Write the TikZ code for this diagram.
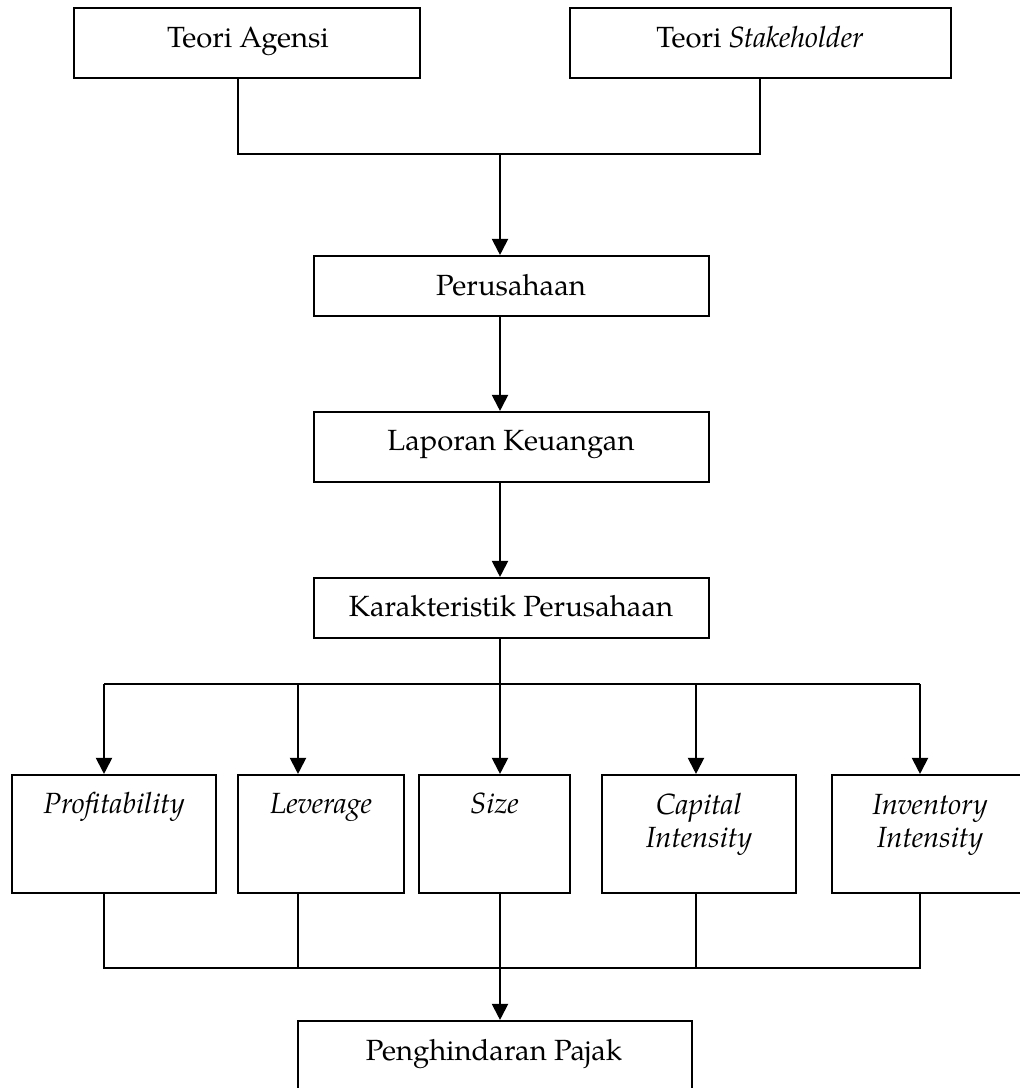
\documentclass[tikz,border=0pt]{standalone}
\usepackage{fontspec}
\setmainfont{TeX Gyre Pagella}
\usetikzlibrary{arrows.meta}
\begin{document}
\begin{tikzpicture}[x=0.5pt,y=-0.5pt,
  box/.style={draw, line width=1.05pt, inner sep=0pt},
  lbl/.style={anchor=base, inner sep=0pt, font=\fontsize{14.6}{16.5}\selectfont},
  conn/.style={line width=1pt},
  arr/.style={line width=1pt, -{Triangle[length=8pt,width=8pt]}}]
\useasboundingbox (0,0) rectangle (1019,1088);
% boxes
\node[box, minimum width=173pt, minimum height=35pt] (agensi) at (247,43) {};
\node[box, minimum width=190.5pt, minimum height=35pt] (stake) at (760.5,43) {};
\node[box, minimum width=197.5pt, minimum height=30pt] (perus) at (511.5,286) {};
\node[box, minimum width=197.5pt, minimum height=35pt] (lapor) at (511.5,447) {};
\node[box, minimum width=197.5pt, minimum height=30pt] (karak) at (511.5,608) {};
\node[box, minimum width=102pt, minimum height=59pt] (profit) at (114,834) {};
\node[box, minimum width=83pt, minimum height=59pt] (lever) at (321,834) {};
\node[box, minimum width=75.5pt, minimum height=59pt] (size) at (494.5,834) {};
\node[box, minimum width=97pt, minimum height=59pt] (capital) at (699,834) {};
\node[box, minimum width=98pt, minimum height=59pt] (invent) at (930,834) {};
\node[box, minimum width=197pt, minimum height=39.5pt] (pengh) at (495,1060.5) {};
% labels
\node[lbl] (tagensi) at (248,47) {Teori Agensi};
\node[lbl] (tstake) at (760,47) {Teori \textit{Stakeholder}};
\node[lbl] (tperus) at (511,295) {Perusahaan};
\node[lbl] (tlapor) at (511,450) {Laporan Keuangan};
\node[lbl] (tkarak) at (511,616) {Karakteristik Perusahaan};
\node[lbl] (tprofit) at (114,813) {\textit{Profitability}};
\node[lbl] (tlever) at (321,813) {\textit{Leverage}};
\node[lbl] (tsize) at (494.5,813) {\textit{Size}};
\node[lbl] (tcap1) at (699,814) {\textit{Capital}};
\node[lbl] (tcap2) at (699,847) {\textit{Intensity}};
\node[lbl] (tinv1) at (930,814) {\textit{Inventory}};
\node[lbl] (tinv2) at (930,847) {\textit{Intensity}};
\node[lbl] (tpengh) at (494,1060) {Penghindaran Pajak};
% junction coordinates
\coordinate (xa) at (238,0);
\coordinate (xs) at (760,0);
\coordinate (jt) at (500,154);
\coordinate (jm) at (500,684);
\coordinate (jb) at (500,968);
\coordinate (x1) at (104,0);
\coordinate (x2) at (298,0);
\coordinate (x4) at (696,0);
\coordinate (x5) at (920,0);
% top connectors
\draw[conn] (agensi.south -| xa) |- (jt) -| (stake.south -| xs);
\draw[arr] (jt) -- (perus.north -| jt);
\draw[arr] (perus.south -| jt) -- (lapor.north -| jt);
\draw[arr] (lapor.south -| jt) -- (karak.north -| jt);
\draw[conn] (karak.south -| jm) -- (jm);
\draw[conn] (x1 |- jm) -- (x5 |- jm);
\draw[arr] (x1 |- jm) -- (profit.north -| x1);
\draw[arr] (x2 |- jm) -- (lever.north -| x2);
\draw[arr] (jm) -- (size.north -| jm);
\draw[arr] (x4 |- jm) -- (capital.north -| x4);
\draw[arr] (x5 |- jm) -- (invent.north -| x5);
% bottom connectors
\draw[conn] (profit.south -| x1) -- (x1 |- jb) -- (x5 |- jb) -- (invent.south -| x5);
\draw[conn] (lever.south -| x2) -- (x2 |- jb);
\draw[conn] (capital.south -| x4) -- (x4 |- jb);
\draw[arr] (size.south -| jb) -- (pengh.north -| jb);
\end{tikzpicture}
\end{document}
